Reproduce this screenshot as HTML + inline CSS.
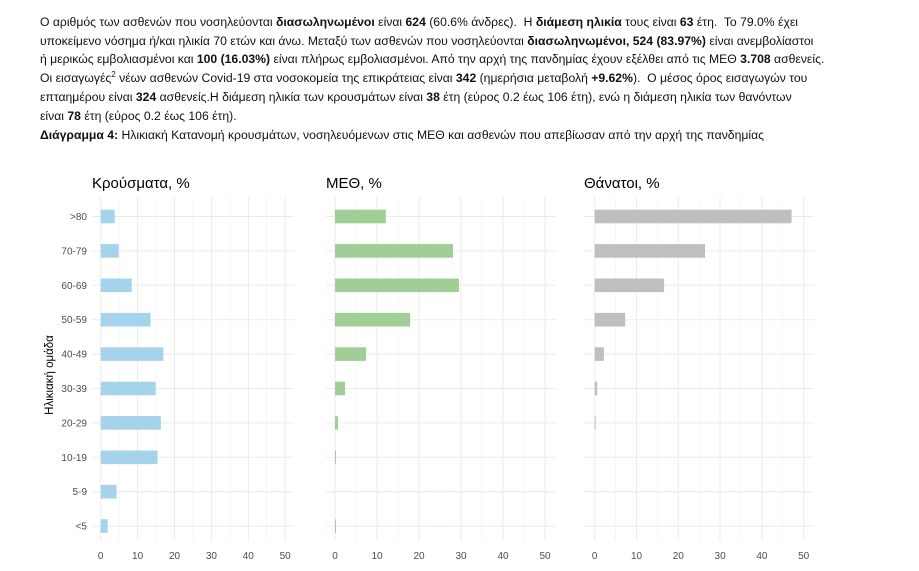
<!DOCTYPE html>
<html><head><meta charset="utf-8"><style>
body{margin:0;width:919px;height:571px;background:#fff;overflow:hidden;position:relative;font-family:"Liberation Sans","DejaVu Sans",sans-serif}
.t{position:absolute;left:40px;font-size:12.2px;color:#111;white-space:nowrap;line-height:18px}
b{font-weight:bold}
sup{font-size:8px;line-height:0;vertical-align:5px}
</style></head><body>
<div class="t" style="top:13px">Ο αριθμός των ασθενών που νοσηλεύονται <b>διασωληνωμένοι</b> είναι <b>624</b> (60.6% άνδρες).&nbsp; Η <b>διάμεση ηλικία</b> τους είναι <b>63</b> έτη.&nbsp; Το 79.0% έχει</div>
<div class="t" style="top:32px">υποκείμενο νόσημα ή/και ηλικία 70 ετών και άνω. Μεταξύ των ασθενών που νοσηλεύονται <b>διασωληνωμένοι, 524 (83.97%)</b> είναι ανεμβολίαστοι</div>
<div class="t" style="top:50px">ή μερικώς εμβολιασμένοι και <b>100 (16.03%)</b> είναι πλήρως εμβολιασμένοι. Από την αρχή της πανδημίας έχουν εξέλθει από τις ΜΕΘ <b>3.708</b> ασθενείς.</div>
<div class="t" style="top:69px">Οι εισαγωγές<sup>2</sup> νέων ασθενών Covid-19 στα νοσοκομεία της επικράτειας είναι <b>342</b> (ημερήσια μεταβολή <b>+9.62%</b>).&nbsp; Ο μέσος όρος εισαγωγών του</div>
<div class="t" style="top:88px">επταημέρου είναι <b>324</b> ασθενείς.Η διάμεση ηλικία των κρουσμάτων είναι <b>38</b> έτη (εύρος 0.2 έως 106 έτη), ενώ η διάμεση ηλικία των θανόντων</div>
<div class="t" style="top:107px">είναι <b>78</b> έτη (εύρος 0.2 έως 106 έτη).</div>
<div class="t" style="top:126px"><b>Διάγραμμα 4:</b> Ηλικιακή Κατανομή κρουσμάτων, νοσηλευόμενων στις ΜΕΘ και ασθενών που απεβίωσαν από την αρχή της πανδημίας</div>
<svg width="919" height="571" style="position:absolute;left:0;top:0" font-family="Liberation Sans, DejaVu Sans, sans-serif">
<g id="chart"></g>
<text x="92" y="188" font-size="15" fill="#000">Κρούσματα, %</text>
<text x="326" y="188" font-size="15" fill="#000">ΜΕΘ, %</text>
<text x="584" y="188" font-size="15" fill="#000">Θάνατοι, %</text>
<text transform="translate(53,375) rotate(-90)" text-anchor="middle" font-size="11.5" fill="#000">Ηλικιακή ομάδα</text>
</svg>
<script>
var g=document.getElementById('chart'),ns='http://www.w3.org/2000/svg';
function el(t,a){var e=document.createElementNS(ns,t);for(var k in a)e.setAttribute(k,a[k]);g.appendChild(e);return e;}
var labels=['>80','70-79','60-69','50-59','40-49','30-39','20-29','10-19','5-9','<5'];
var ys=labels.map(function(_,i){return 216.5+i*34.4;});
var panels=[
 {x0:100.7,s:3.69,l:92,r:294,c:'#a6d3ec',v:[3.8,4.9,8.4,13.5,17,14.9,16.3,15.4,4.3,1.9]},
 {x0:335,s:4.2,l:326,r:556,c:'#9fcf97',v:[12.1,28.1,29.5,17.9,7.4,2.4,0.7,0.2,0,0.1]},
 {x0:594.7,s:4.18,l:584,r:814,c:'#bfbfbf',v:[47.1,26.4,16.6,7.3,2.2,0.6,0.2,0,0,0]}];
panels.forEach(function(p,pi){
 for(var k=0;k<=10;k++){var x=p.x0+k*5*p.s;if(x>p.r)break;
  el('line',{x1:x,x2:x,y1:197,y2:541,stroke:k%2?'#f2f2f2':'#ebebeb','stroke-width':k%2?0.6:1});}
 ys.forEach(function(y){el('line',{x1:p.l,x2:p.r,y1:y,y2:y,stroke:'#ebebeb','stroke-width':1});});
 p.v.forEach(function(v,i){if(v>0)el('rect',{x:p.x0,y:ys[i]-6.8,width:Math.max(v*p.s,1),height:13.6,fill:p.c});});
 for(var k=0;k<=50;k+=10){var t=el('text',{x:p.x0+k*p.s,y:559,'font-size':10,fill:'#4d4d4d','text-anchor':'middle'});t.textContent=k;}
 if(pi==0)labels.forEach(function(L,i){var t=el('text',{x:87,y:ys[i]+3.5,'font-size':10,fill:'#4d4d4d','text-anchor':'end'});t.textContent=L;});
});
</script>
</body></html>
